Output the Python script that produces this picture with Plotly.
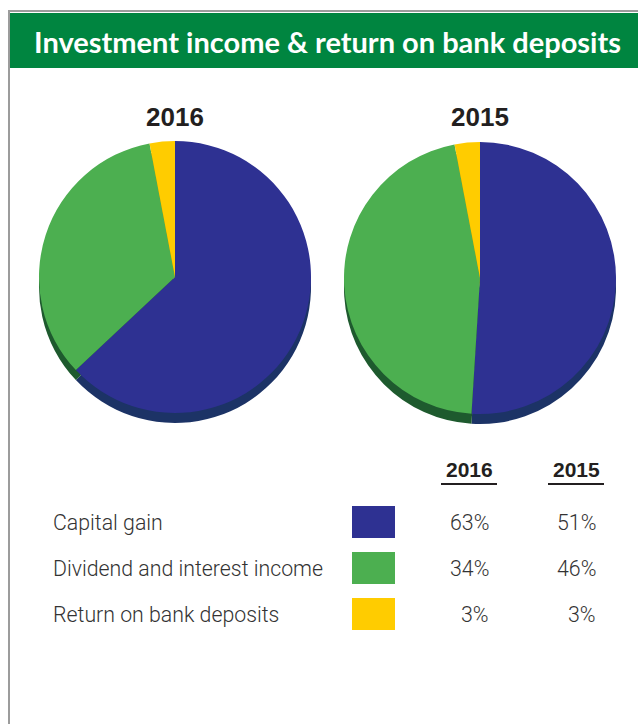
import plotly.graph_objects as go

# Data
categories = ["Capital gain", "Dividend and interest income", "Return on bank deposits"]
years = ["2016", "2015"]
share_2016 = [63, 34, 3]
share_2015 = [51, 46, 3]
slice_colors = ["#2e3192", "#4caf50", "#ffcc00"]
shadow_colors = ["#1c3366", "#1e5a2e", "#b38f00"]

W, H = 638, 724


def px(x):
    return x / W


def py(y):
    return 1 - y / H


def pie_domain(cx, cy, r):
    return dict(x=[px(cx - r), px(cx + r)], y=[py(cy + r), py(cy - r)])


fig = go.Figure()

pies = [(share_2016, 175, 277), (share_2015, 480, 278)]
R = 136
DEPTH = 10

# Extruded edge under each pie, then the pie face on top
for vals, cx, cy in pies:
    fig.add_trace(go.Pie(
        labels=categories, values=vals, sort=False, direction="clockwise", rotation=0,
        marker=dict(colors=shadow_colors, line=dict(width=0)),
        textinfo="none", hoverinfo="skip", showlegend=False,
        domain=pie_domain(cx, cy + DEPTH, R),
    ))
for vals, cx, cy in pies:
    fig.add_trace(go.Pie(
        labels=categories, values=vals, sort=False, direction="clockwise", rotation=0,
        marker=dict(colors=slice_colors, line=dict(width=0)),
        textinfo="none", hoverinfo="label+percent", showlegend=False,
        domain=pie_domain(cx, cy, R),
    ))

shapes = []
annotations = []

# Frame and title band
shapes.append(dict(type="line", xref="paper", yref="paper", x0=px(9), x1=px(9), y0=py(11), y1=py(724),
                   line=dict(color="#9c9c9c", width=2)))
shapes.append(dict(type="line", xref="paper", yref="paper", x0=px(8), x1=px(638), y0=py(11), y1=py(11),
                   line=dict(color="#9c9c9c", width=2)))
shapes.append(dict(type="rect", xref="paper", yref="paper", x0=px(10), x1=px(638), y0=py(68), y1=py(13),
                   fillcolor="#008540", line=dict(width=0), layer="below"))
annotations.append(dict(text="<b>Investment income & return on bank deposits</b>", x=px(32), y=py(41),
                        xref="paper", yref="paper", xanchor="left", yanchor="middle", showarrow=False,
                        font=dict(family="Lato, Roboto, sans-serif", size=29, color="white")))

# Year labels above the pies
for yr, (_, cx, _) in zip(years, pies):
    annotations.append(dict(text=f"<b>{yr}</b>", x=px(cx), y=py(117), xref="paper", yref="paper",
                            xanchor="center", yanchor="middle", showarrow=False,
                            font=dict(family="Liberation Sans, Arial, sans-serif", size=26, color="#231f20")))

# Table header
col_centers = [469, 576]
col_rights = [491, 598]
for yr, c in zip(years, col_centers):
    annotations.append(dict(text=f"<b>{yr}</b>", x=px(c), y=py(469), xref="paper", yref="paper",
                            xanchor="center", yanchor="middle", showarrow=False,
                            font=dict(family="Liberation Sans, Arial, sans-serif", size=21, color="#231f20")))
    shapes.append(dict(type="line", xref="paper", yref="paper", x0=px(c - 28), x1=px(c + 28),
                       y0=py(484), y1=py(484), line=dict(color="#231f20", width=2)))

# Table rows
row_y = [522, 568, 614]
body_font = dict(family="Roboto, Liberation Sans, sans-serif", size=21.3, color="#333333", weight=300)
for cat, col, v16, v15, ry in zip(categories, slice_colors, share_2016, share_2015, row_y):
    annotations.append(dict(text=cat, x=px(51), y=py(ry), xref="paper", yref="paper",
                            xanchor="left", yanchor="middle", showarrow=False, font=body_font))
    shapes.append(dict(type="rect", xref="paper", yref="paper", x0=px(352), x1=px(395),
                       y0=py(ry + 16), y1=py(ry - 16), fillcolor=col, line=dict(width=0)))
    for v, xr in zip([v16, v15], col_rights):
        annotations.append(dict(text=f"{v}%", x=px(xr), y=py(ry), xref="paper", yref="paper",
                                xanchor="right", yanchor="middle", showarrow=False, font=body_font))

fig.update_layout(
    width=W, height=H, margin=dict(l=0, r=0, t=0, b=0),
    paper_bgcolor="white", plot_bgcolor="white",
    shapes=shapes, annotations=annotations,
)

fig.write_html("out.html")
